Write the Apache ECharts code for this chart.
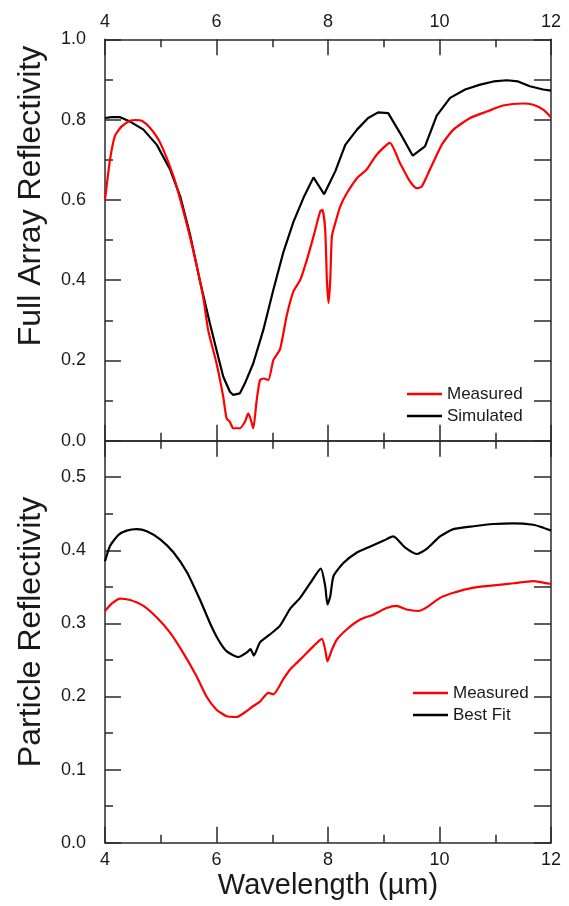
<!DOCTYPE html>
<html><head><meta charset="utf-8">
<script src="https://cdn.jsdelivr.net/npm/echarts@6/dist/echarts.min.js"></script>
<style>html,body{margin:0;padding:0;background:#fff}#c{width:569px;height:906px}</style>
</head><body><div id="c"></div>
<script>
const FONT = "'Liberation Sans', Arial, Helvetica, sans-serif";
const TEXT = '#1a1a1a';
const LINE = '#2a2a2a';

// Axis ranges
const wavelengthRange = [4, 12];
const fullRange = [0, 1.0];
const particleRange = [0, 0.55];

// Top panel: Full Array Reflectivity
const fullMeasuredX = [4.00, 4.09, 4.18, 4.30, 4.45, 4.55, 4.66, 4.81, 4.99, 5.23, 5.40, 5.58, 5.76, 5.85, 6.00, 6.12, 6.18, 6.24, 6.30, 6.42, 6.51, 6.57, 6.62, 6.66, 6.72, 6.78, 6.85, 6.93, 7.02, 7.14, 7.26, 7.38, 7.50, 7.62, 7.74, 7.86, 7.90, 7.95, 7.98, 8.01, 8.04, 8.07, 8.13, 8.22, 8.34, 8.52, 8.69, 8.87, 9.11, 9.29, 9.47, 9.59, 9.68, 9.80, 10.04, 10.25, 10.55, 10.85, 11.14, 11.50, 11.68, 11.86, 12.00];
const fullMeasuredY = [0.600, 0.700, 0.760, 0.783, 0.797, 0.799, 0.797, 0.779, 0.742, 0.658, 0.575, 0.476, 0.359, 0.276, 0.193, 0.110, 0.056, 0.047, 0.031, 0.031, 0.047, 0.068, 0.050, 0.031, 0.100, 0.151, 0.155, 0.151, 0.201, 0.228, 0.312, 0.372, 0.400, 0.450, 0.509, 0.571, 0.575, 0.525, 0.400, 0.343, 0.400, 0.509, 0.542, 0.584, 0.617, 0.654, 0.675, 0.712, 0.742, 0.692, 0.646, 0.629, 0.633, 0.667, 0.737, 0.775, 0.804, 0.820, 0.835, 0.840, 0.837, 0.825, 0.806];

const fullSimulatedX = [4.00, 4.12, 4.27, 4.45, 4.69, 4.93, 5.17, 5.35, 5.52, 5.70, 5.88, 6.00, 6.12, 6.24, 6.30, 6.42, 6.51, 6.66, 6.84, 7.02, 7.20, 7.38, 7.56, 7.74, 7.93, 8.13, 8.31, 8.52, 8.72, 8.90, 9.08, 9.29, 9.52, 9.74, 9.95, 10.19, 10.46, 10.73, 10.97, 11.21, 11.41, 11.62, 11.86, 12.00];
const fullSimulatedY = [0.804, 0.806, 0.806, 0.795, 0.775, 0.737, 0.675, 0.608, 0.517, 0.400, 0.293, 0.226, 0.160, 0.122, 0.114, 0.118, 0.143, 0.193, 0.276, 0.376, 0.470, 0.545, 0.605, 0.656, 0.614, 0.671, 0.737, 0.775, 0.804, 0.818, 0.816, 0.767, 0.710, 0.733, 0.810, 0.854, 0.875, 0.887, 0.895, 0.898, 0.895, 0.883, 0.875, 0.872];

// Bottom panel: Particle Reflectivity
const particleMeasuredX = [4.00, 4.12, 4.27, 4.45, 4.69, 4.93, 5.17, 5.40, 5.64, 5.82, 6.00, 6.18, 6.36, 6.54, 6.66, 6.78, 6.93, 7.02, 7.20, 7.32, 7.44, 7.56, 7.74, 7.89, 7.95, 7.99, 8.07, 8.16, 8.34, 8.57, 8.81, 9.05, 9.23, 9.41, 9.62, 9.77, 10.01, 10.25, 10.61, 10.97, 11.33, 11.68, 12.00];
const particleMeasuredY = [0.317, 0.327, 0.334, 0.332, 0.324, 0.308, 0.287, 0.260, 0.228, 0.200, 0.182, 0.173, 0.172, 0.180, 0.187, 0.193, 0.205, 0.203, 0.224, 0.237, 0.246, 0.255, 0.269, 0.279, 0.264, 0.248, 0.264, 0.278, 0.292, 0.305, 0.312, 0.321, 0.324, 0.319, 0.317, 0.322, 0.335, 0.342, 0.349, 0.352, 0.355, 0.358, 0.354];

const particleFitX = [4.00, 4.09, 4.24, 4.39, 4.57, 4.75, 4.99, 5.23, 5.47, 5.70, 5.88, 6.03, 6.18, 6.39, 6.54, 6.61, 6.67, 6.78, 6.96, 7.14, 7.32, 7.50, 7.68, 7.87, 7.95, 7.99, 8.04, 8.10, 8.28, 8.52, 8.75, 8.99, 9.17, 9.38, 9.59, 9.77, 10.01, 10.25, 10.61, 10.97, 11.33, 11.68, 11.86, 12.00];
const particleFitY = [0.385, 0.406, 0.421, 0.427, 0.429, 0.426, 0.415, 0.397, 0.370, 0.333, 0.301, 0.278, 0.262, 0.254, 0.260, 0.265, 0.256, 0.274, 0.285, 0.297, 0.320, 0.335, 0.355, 0.375, 0.351, 0.326, 0.337, 0.365, 0.383, 0.397, 0.405, 0.413, 0.419, 0.404, 0.395, 0.402, 0.419, 0.429, 0.433, 0.436, 0.437, 0.435, 0.431, 0.427];

function pairs(xs, ys) { return xs.map((x, i) => [x, ys[i]]); }

const lineStyle = { color: LINE, width: 1.5 };
const labelStyle = { color: TEXT, fontSize: 18, fontFamily: FONT };

function xAxis(gridIndex, position, showLabel, extra) {
  return Object.assign({
    type: 'value', gridIndex, position,
    min: wavelengthRange[0], max: wavelengthRange[1], interval: 2,
    splitLine: { show: false },
    axisLine: { show: true, onZero: false, lineStyle },
    axisTick: { show: true, inside: true, length: 16, lineStyle },
    minorTick: { show: true, splitNumber: 2, length: 8, lineStyle },
    axisLabel: Object.assign({ show: showLabel, margin: 8 }, labelStyle)
  }, extra || {});
}

function yAxis(gridIndex, position, range, interval, tickLen, showLabel, extra) {
  return Object.assign({
    type: 'value', gridIndex, position,
    min: range[0], max: range[1], interval,
    splitLine: { show: false },
    axisLine: { show: true, onZero: false, lineStyle },
    axisTick: { show: true, inside: true, length: tickLen, lineStyle },
    axisLabel: Object.assign({ show: showLabel, margin: 19, formatter: v => v.toFixed(1) }, labelStyle)
  }, extra || {});
}

const option = {
  animation: false,
  backgroundColor: '#fff',
  grid: [
    { left: 105, right: 18, top: 39.3, height: 401.4 },
    { left: 105, right: 18, top: 440.7, height: 402 }
  ],
  xAxis: [
    xAxis(0, 'top', true),
    xAxis(0, 'bottom', false),
    xAxis(1, 'top', false),
    xAxis(1, 'bottom', true, {
      name: 'Wavelength (\u00b5m)', nameLocation: 'middle', nameGap: 29,
      nameTextStyle: { color: TEXT, fontSize: 29, fontFamily: FONT }
    })
  ],
  yAxis: [
    yAxis(0, 'left', fullRange, 0.2, 16, true, {
      minorTick: { show: true, splitNumber: 2, length: 8, lineStyle }
    }),
    yAxis(0, 'right', fullRange, 0.1, 17, false),
    yAxis(1, 'left', particleRange, 0.1, 16, true, {
      axisLabel: Object.assign({ show: true, margin: 19, showMaxLabel: false, formatter: v => v.toFixed(1) }, labelStyle)
    }),
    yAxis(1, 'left', particleRange, 0.05, 8, false, { axisLine: { show: false } }),
    yAxis(1, 'right', particleRange, 0.05, 17, false)
  ],
  legend: [
    {
      orient: 'vertical', left: 402, top: 380.5, itemWidth: 35, itemHeight: 2.5, itemGap: 5,
      icon: 'rect', data: ['Measured', 'Simulated'],
      textStyle: { color: TEXT, fontSize: 17, fontFamily: FONT, padding: [0, 0, 0, 0] },
      selectedMode: false
    },
    {
      orient: 'vertical', left: 408, top: 679.5, itemWidth: 35, itemHeight: 2.5, itemGap: 5,
      icon: 'rect', data: ['Measured', 'Best Fit'],
      textStyle: { color: TEXT, fontSize: 17, fontFamily: FONT },
      selectedMode: false
    }
  ],
  graphic: [
    {
      type: 'text', x: 31, y: 196, rotation: Math.PI / 2,
      style: { text: 'Full Array Reflectivity', fill: TEXT, fontSize: 32, fontFamily: FONT, align: 'center', verticalAlign: 'middle' }
    },
    {
      type: 'text', x: 31, y: 632, rotation: Math.PI / 2,
      style: { text: 'Particle Reflectivity', fill: TEXT, fontSize: 32, fontFamily: FONT, align: 'center', verticalAlign: 'middle' }
    }
  ],
  series: [
    {
      name: 'Simulated', type: 'line', xAxisIndex: 0, yAxisIndex: 0,
      data: pairs(fullSimulatedX, fullSimulatedY), symbol: 'none',
      lineStyle: { color: '#000', width: 2.2 }, itemStyle: { color: '#000' }, z: 2
    },
    {
      name: 'Measured', type: 'line', xAxisIndex: 0, yAxisIndex: 0,
      data: pairs(fullMeasuredX, fullMeasuredY), symbol: 'none', smooth: 0.2,
      lineStyle: { color: '#ff0000', width: 2.2 }, itemStyle: { color: '#ff0000' }, z: 3
    },
    {
      name: 'Best Fit', type: 'line', xAxisIndex: 3, yAxisIndex: 2,
      data: pairs(particleFitX, particleFitY), symbol: 'none', smooth: 0.2,
      lineStyle: { color: '#000', width: 2.2 }, itemStyle: { color: '#000' }, z: 2
    },
    {
      name: 'Measured', type: 'line', xAxisIndex: 3, yAxisIndex: 2,
      data: pairs(particleMeasuredX, particleMeasuredY), symbol: 'none', smooth: 0.2,
      lineStyle: { color: '#ff0000', width: 2.2 }, itemStyle: { color: '#ff0000' }, z: 3
    }
  ]
};

const chart = echarts.init(document.getElementById('c'), null, { renderer: 'canvas' });
chart.setOption(option);
</script>
</body></html>
